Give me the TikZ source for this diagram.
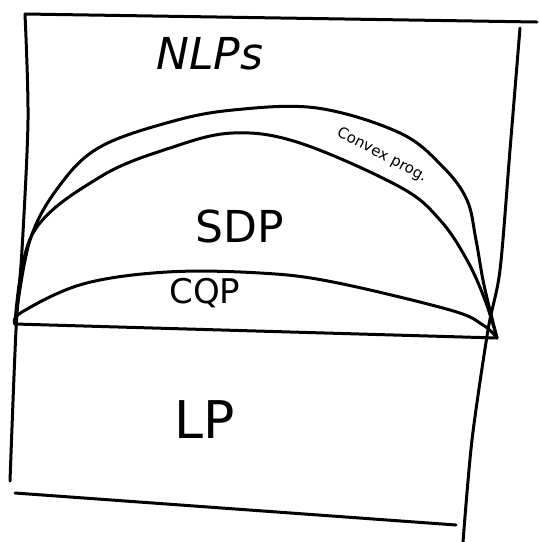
\documentclass[tikz,border=0pt]{standalone}
\usepackage{fontspec}
\setmainfont{DejaVu Sans}
\begin{document}
\begin{tikzpicture}[x=1pt,y=-1pt,
  ink/.style={line width=3pt,line cap=round,line join=round},
  lbl/.style={inner sep=0pt,font=\fontsize{44}{48}\selectfont}]
\useasboundingbox (0,0) rectangle (540,542);
% outer frame
\draw[ink] (25,14) -- (537,22);
\draw[ink] plot[smooth] coordinates {(25,14) (28,120) (22,250) (16,330) (10,481)};
\draw[ink] plot[smooth] coordinates {(520,28) (510,150) (500,270) (488,330) (472,440) (463,542)};
\draw[ink] (15,493) -- (456,525);
% LP line
\coordinate (L) at (15,324);
\coordinate (R) at (497,338);
\draw[ink] (L) -- (R);
% convex programs (outer curve)
\draw[ink] plot[smooth,tension=0.6] coordinates {(L) (30,240) (60,185) (100,147) (170,122) (233,110) (317,108) (400,133) (443,167) (467,200) (476,240) (484,285) (R)};
% SDP curve
\draw[ink] plot[smooth,tension=0.6] coordinates {(L) (33,233) (100,177) (170,148) (233,133) (300,143) (400,187) (440,220) (467,260) (485,300) (R)};
% CQP curve
\draw[ink] plot[smooth,tension=0.6] coordinates {(L) (22,312) (83,284) (167,272) (260,273) (333,282) (450,310) (483,325) (R)};
% labels
\node[lbl] (nlp) at (210,54) {\textit{NLPs}};
\node[lbl] (sdp) at (240,226) {SDP};
\node[lbl,font=\fontsize{34}{38}\selectfont] (cqp) at (205,293) {CQP};
\node[lbl,font=\fontsize{52}{56}\selectfont] (lp) at (205,420) {LP};
\node[inner sep=0pt,font=\fontsize{15}{18}\selectfont,rotate=-28] (cvx) at (382,155) {Convex prog.};
\end{tikzpicture}
\end{document}
